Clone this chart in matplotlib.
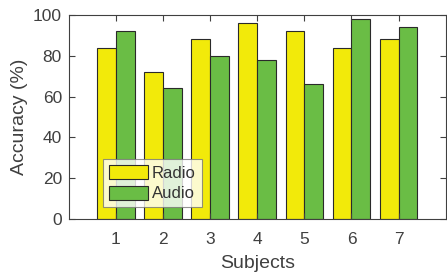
import numpy as np
import matplotlib.pyplot as plt

plt.rcParams['font.family'] = ['Liberation Sans', 'DejaVu Sans']

subjects = [1, 2, 3, 4, 5, 6, 7]
radio = [84, 72, 88, 96, 92, 84, 88]
audio = [92, 64, 80, 78, 66, 98, 94]

fig = plt.figure(figsize=(4.47, 2.74), dpi=100)
ax = fig.add_axes([0.154, 0.2007, 0.843, 0.745])

x = np.array(subjects)
w = 0.4
ax.bar(x - w / 2, radio, w, color='#F2EA0A', edgecolor='#2a2a2a', linewidth=0.8, label='Radio')
ax.bar(x + w / 2, audio, w, color='#6ABD45', edgecolor='#2a2a2a', linewidth=0.8, label='Audio')

ax.set_xlim(0, 8)
ax.set_ylim(0, 100)
ax.set_xticks(subjects)
ax.set_yticks([0, 20, 40, 60, 80, 100])

grey = '#404040'
for s in ax.spines.values():
    s.set_color(grey)
    s.set_linewidth(0.8)
ax.tick_params(direction='in', top=True, right=True, colors=grey, labelsize=12.5,
               length=4, width=0.8)
ax.tick_params(axis='x', pad=9)
ax.tick_params(axis='y', pad=5)
ax.set_xlabel('Subjects', fontsize=14, color=grey, labelpad=6)
ax.set_ylabel('Accuracy (%)', fontsize=14, color=grey, labelpad=3.5)

leg = ax.legend(loc='lower left', bbox_to_anchor=(0.09, 0.058), fontsize=12,
                frameon=True, fancybox=False, edgecolor='#777777',
                handlelength=2.35, handleheight=0.9, borderpad=0.35,
                labelspacing=0.3, handletextpad=0.25, borderaxespad=0)
leg.get_frame().set_linewidth(0.8)
for t in leg.get_texts():
    t.set_color('#333333')

fig.savefig('out.png', dpi=100)
